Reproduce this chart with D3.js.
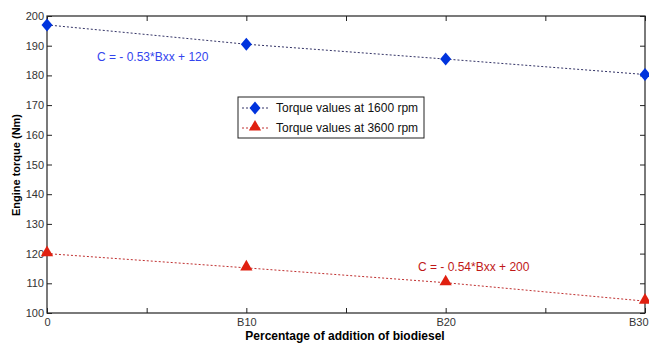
<!DOCTYPE html>
<html lang="en">
<head>
<meta charset="UTF-8">
<title>Engine torque vs biodiesel</title>
<script src="https://cdn.jsdelivr.net/npm/d3@7"></script>
<style>
  body { margin: 0; background: #fff; font-family: Arial, 'Liberation Sans', sans-serif; }
  .tick text { font-size: 11px; fill: #333; }
</style>
</head>
<body>
<svg id="chart" width="649" height="343"></svg>
<script>
// data
var blends = [0, 10, 20, 30];
var blendLabels = ['0', 'B10', 'B20', 'B30'];
var torque1600 = [197, 190.5, 185.5, 180.3];
var torque3600 = [120, 115.2, 110.2, 104];
var yTicks = [100, 110, 120, 130, 140, 150, 160, 170, 180, 190, 200];
var seriesNames = ['Torque values at 1600 rpm', 'Torque values at 3600 rpm'];

var svg = d3.select('#chart');
var mLeft = 47, mRight = 645, mTop = 16, mBottom = 313;

var x = d3.scaleLinear().domain([0, 30]).range([mLeft, mRight]);
var y = d3.scaleLinear().domain([100, 200]).range([mBottom, mTop]);

// box
svg.append('rect').attr('x', mLeft).attr('y', mTop)
  .attr('width', mRight - mLeft).attr('height', mBottom - mTop)
  .attr('fill', 'none').attr('stroke', '#222').attr('stroke-width', 1.2);

var xt = d3.range(0, 31, 5);
var lab = function(d) { var i = blends.indexOf(d); return i < 0 ? '' : blendLabels[i]; };

svg.append('g').attr('transform', 'translate(0,' + mBottom + ')')
  .call(d3.axisBottom(x).tickValues(xt).tickFormat(lab).tickSizeInner(-5).tickSizeOuter(0).tickPadding(5))
  .call(g => g.select('.domain').remove())
  .call(g => g.selectAll('.tick text').filter(d => d === 30).attr('text-anchor', 'end').attr('dx', 3));
svg.append('g').attr('transform', 'translate(0,' + mTop + ')')
  .call(d3.axisTop(x).tickValues(xt).tickFormat('').tickSizeInner(-5).tickSizeOuter(0))
  .call(g => g.select('.domain').remove());
svg.append('g').attr('transform', 'translate(' + mLeft + ',0)')
  .call(d3.axisLeft(y).tickValues(yTicks).tickSizeInner(-5).tickSizeOuter(0).tickPadding(3))
  .call(g => g.select('.domain').remove());
svg.append('g').attr('transform', 'translate(' + mRight + ',0)')
  .call(d3.axisRight(y).tickValues(yTicks).tickFormat('').tickSizeInner(-5).tickSizeOuter(0))
  .call(g => g.select('.domain').remove());
svg.selectAll('.tick line').attr('stroke', '#222');

var line = d3.line().x(d => x(d[0])).y(d => y(d[1]));
var s1 = blends.map((b, i) => [b, torque1600[i]]);
var s2 = blends.map((b, i) => [b, torque3600[i]]);

svg.append('path').datum(s1).attr('d', line).attr('fill', 'none')
  .attr('stroke', '#333366').attr('stroke-width', 1).attr('stroke-dasharray', '2,2');
svg.append('path').datum(s2).attr('d', line).attr('fill', 'none')
  .attr('stroke', '#c03030').attr('stroke-width', 1).attr('stroke-dasharray', '2,2');

// matlab-like diamond: about 11 wide, 13 tall
var diamond = 'M0,-6.5L5.5,0L0,6.5L-5.5,0Z';
var tri = d3.symbol().type(d3.symbolTriangle).size(65)();

svg.selectAll('.m1').data(s1).join('path')
  .attr('transform', d => 'translate(' + x(d[0]) + ',' + y(d[1]) + ')')
  .attr('d', diamond).attr('fill', '#0033dd');
svg.selectAll('.m2').data(s2).join('path')
  .attr('transform', d => 'translate(' + x(d[0]) + ',' + (y(d[1]) - 1) + ')')
  .attr('d', tri).attr('fill', '#e02010');

// annotations
svg.append('text').attr('x', 97).attr('y', 61).attr('font-size', 12)
  .attr('fill', '#3344ee').text('C = - 0.53*Bxx + 120');
svg.append('text').attr('x', 418).attr('y', 271).attr('font-size', 12)
  .attr('fill', '#c01818').text('C = - 0.54*Bxx + 200');

// legend
var lg = svg.append('g').attr('transform', 'translate(238,97)');
lg.append('rect').attr('width', 186).attr('height', 41)
  .attr('fill', '#fff').attr('stroke', '#222').attr('stroke-width', 1);
[[diamond, '#333366', '#0033dd'], [tri, '#c03030', '#e02010']].forEach(function(s, i) {
  var yy = 11 + i * 20;
  lg.append('line').attr('x1', 4).attr('x2', 30).attr('y1', yy).attr('y2', yy)
    .attr('stroke', s[1]).attr('stroke-dasharray', '2,2');
  lg.append('path').attr('transform', 'translate(17,' + (yy - (i ? 1 : 0)) + ')')
    .attr('d', s[0]).attr('fill', s[2]);
  lg.append('text').attr('x', 38).attr('y', yy + 4).attr('font-size', 12)
    .attr('fill', '#111').text(seriesNames[i]);
});

// axis titles
svg.append('text').attr('transform', 'translate(20,165) rotate(-90)')
  .attr('text-anchor', 'middle').attr('font-size', 11).attr('font-weight', 'bold')
  .text('Engine torque (Nm)');
svg.append('text').attr('x', 345).attr('y', 340).attr('text-anchor', 'middle')
  .attr('font-size', 12).attr('font-weight', 'bold')
  .text('Percentage of addition of biodiesel');
</script>
</body>
</html>
